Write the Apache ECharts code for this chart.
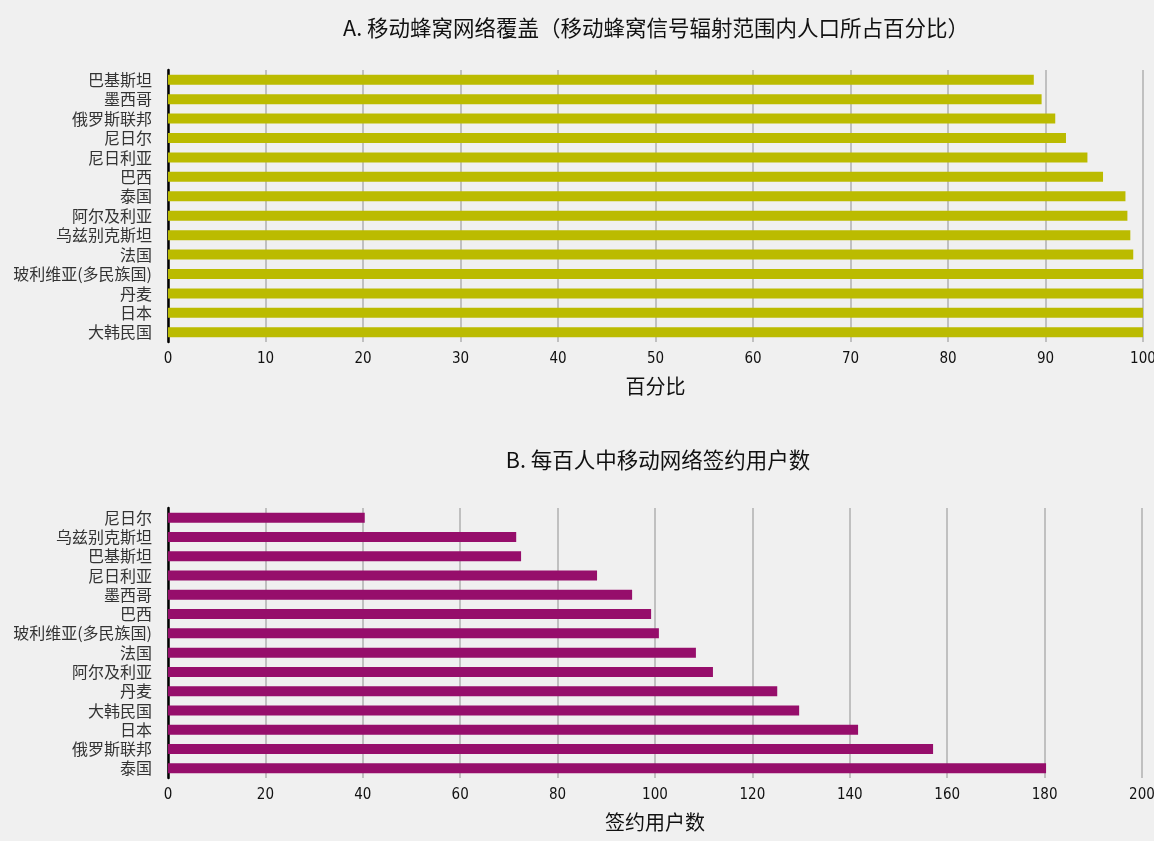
<!DOCTYPE html>
<html>
<head>
<meta charset="utf-8">
<script src="https://cdn.jsdelivr.net/npm/echarts@6/dist/echarts.min.js"></script>
<style>
  html, body { margin: 0; padding: 0; background: #f0f0f0; }
  #chart { width: 1154px; height: 841px; }
</style>
</head>
<body>
<div id="chart"></div>
<script>
// A. coverage (% of population), top to bottom
var coverageCountries = ['巴基斯坦', '墨西哥', '俄罗斯联邦', '尼日尔', '尼日利亚', '巴西', '泰国',
  '阿尔及利亚', '乌兹别克斯坦', '法国', '玻利维亚(多民族国)', '丹麦', '日本', '大韩民国']
var coverageValues = [88.8, 89.6, 91.0, 92.1, 94.3, 95.9, 98.2, 98.4, 98.7, 99.0, 100, 100, 100, 100]

// B. subscriptions per 100 people, top to bottom
var subsCountries = ['尼日尔', '乌兹别克斯坦', '巴基斯坦', '尼日利亚', '墨西哥', '巴西', '玻利维亚(多民族国)',
  '法国', '阿尔及利亚', '丹麦', '大韩民国', '日本', '俄罗斯联邦', '泰国']
var subsValues = [40.4, 71.5, 72.5, 88.1, 95.3, 99.2, 100.8, 108.4, 111.9, 125.1, 129.6, 141.7, 157.1, 180.3]

var numFont = '"Liberation Sans Narrow", "DejaVu Sans Condensed", sans-serif'
var cjkFont = '"Noto Sans CJK SC", sans-serif'

function xAxisOf(gridIndex, max, interval, name) {
  return {
    gridIndex: gridIndex,
    type: 'value',
    min: 0,
    max: max,
    interval: interval,
    name: name,
    nameLocation: 'middle',
    nameGap: 34,
    nameTextStyle: { fontFamily: cjkFont, fontSize: 20, color: '#111' },
    axisLine: { show: false },
    axisTick: { show: false },
    axisLabel: { fontFamily: numFont, fontSize: 15, color: '#111', margin: 10 },
    splitLine: { show: true, lineStyle: { color: '#b0b0b0', width: 1.5 } }
  }
}

function yAxisOf(gridIndex, cats) {
  return {
    gridIndex: gridIndex,
    type: 'category',
    inverse: true,
    data: cats,
    axisLine: { show: true, lineStyle: { color: '#000', width: 2.5 } },
    axisTick: { show: false },
    axisLabel: {
      interval: 0, hideOverlap: false,
      fontFamily: cjkFont, fontSize: 16, lineHeight: 18, color: '#333', margin: 16
    }
  }
}

var chart = echarts.init(document.getElementById('chart'))
chart.setOption({
  backgroundColor: '#f0f0f0',
  animation: false,
  title: [
    {
      text: 'A. 移动蜂窝网络覆盖（移动蜂窝信号辐射范围内人口所占百分比）',
      left: 651, top: 12, textAlign: 'center',
      textStyle: { fontFamily: cjkFont, fontSize: 21.5, fontWeight: 'normal', color: '#111' }
    },
    {
      text: 'B. 每百人中移动网络签约用户数',
      left: 653, top: 444, textAlign: 'center',
      textStyle: { fontFamily: cjkFont, fontSize: 21.5, fontWeight: 'normal', color: '#111' }
    }
  ],
  grid: [
    { left: 168, right: 11, top: 70, height: 272, outerBoundsMode: 'none' },
    { left: 168, right: 12, top: 508, height: 270, outerBoundsMode: 'none' }
  ],
  xAxis: [
    xAxisOf(0, 100, 10, '百分比'),
    xAxisOf(1, 200, 20, '签约用户数')
  ],
  yAxis: [
    yAxisOf(0, coverageCountries),
    yAxisOf(1, subsCountries)
  ],
  series: [
    {
      type: 'bar',
      xAxisIndex: 0,
      yAxisIndex: 0,
      data: coverageValues,
      barWidth: 10,
      itemStyle: { color: '#bbbb00' }
    },
    {
      type: 'bar',
      xAxisIndex: 1,
      yAxisIndex: 1,
      data: subsValues,
      barWidth: 10,
      itemStyle: { color: '#960e6b' }
    }
  ]
})
</script>
</body>
</html>
